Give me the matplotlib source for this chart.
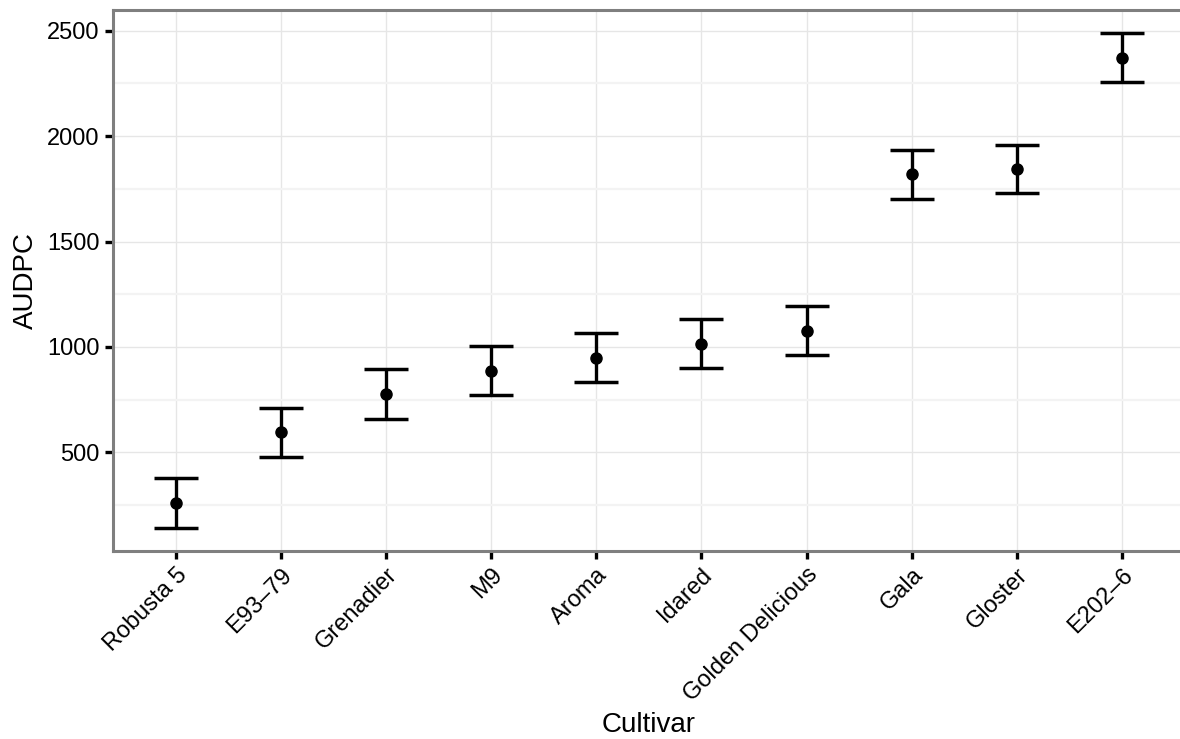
import numpy as np
import matplotlib
matplotlib.use("Agg")
import matplotlib.pyplot as plt
from matplotlib.ticker import MultipleLocator

plt.rcParams['font.family'] = ['Liberation Sans', 'DejaVu Sans']

cultivars = ["Robusta 5", "E93\u201379", "Grenadier", "M9", "Aroma", "Idared",
             "Golden Delicious", "Gala", "Gloster", "E202\u20136"]
audpc_mean = [260, 595, 777, 886, 949, 1015, 1077, 1818, 1845, 2372]
audpc_se = [117, 117, 117, 116, 116, 115, 115, 115, 115, 116]

fig = plt.figure(figsize=(11.8, 7.39), dpi=100)
ax = fig.add_axes([0.0955, 0.2548, 0.9088, 0.7321])

x = np.arange(1, len(cultivars) + 1)
ax.errorbar(x, audpc_mean, yerr=audpc_se, fmt='o', color='black',
            markersize=8, elinewidth=2.4, capsize=15.5, capthick=2.5, zorder=3)

ax.set_xlim(0.4, len(cultivars) + 0.6)
ax.set_ylim(33, 2600)
ax.set_xticks(x)
ax.set_xticklabels(cultivars, rotation=45, ha='right', rotation_mode='anchor')
ax.yaxis.set_major_locator(MultipleLocator(500))
ax.yaxis.set_minor_locator(MultipleLocator(250))
ax.set_yticks([500, 1000, 1500, 2000, 2500])

# theme_bw-like grid
ax.grid(which='major', color='#e6e6e6', linewidth=1.0)
ax.grid(which='minor', axis='y', color='#f3f3f3', linewidth=1.6)
ax.set_axisbelow(True)

for side in ax.spines.values():
    side.set_color('#7f7f7f')
    side.set_linewidth(2.2)

ax.tick_params(which='major', length=5.5, width=2.4, color='black',
               labelsize=17, labelcolor='black', pad=4)
ax.tick_params(which='minor', length=0)

ax.set_xlabel("Cultivar", fontsize=20, labelpad=4)
ax.set_ylabel("AUDPC", fontsize=20, labelpad=6)

fig.savefig("out.png", dpi=100)
